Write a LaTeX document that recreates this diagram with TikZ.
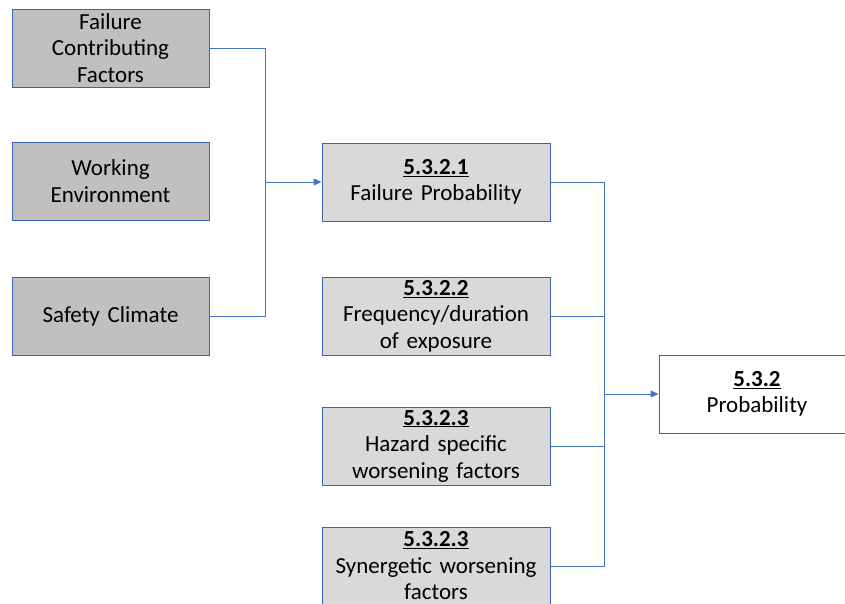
\documentclass[tikz,border=0pt]{standalone}
\usepackage{fontspec}
\setmainfont{Carlito}
\usetikzlibrary{arrows.meta}
\definecolor{edgeblue}{HTML}{3A64B0}
\definecolor{linkblue}{HTML}{4472C4}
\definecolor{factorgray}{HTML}{C0C0C0}
\definecolor{subgray}{HTML}{D9D9D9}
\begin{document}
\begin{tikzpicture}[x=1pt,y=-1pt,
  box/.style={draw=edgeblue,line width=1pt,align=center,inner sep=1pt,
    font=\fontsize{23}{26.5}\selectfont},
  factor/.style={box,fill=factorgray,minimum width=197pt,minimum height=78pt,text width=194pt},
  sub/.style={box,fill=subgray,minimum width=228pt,minimum height=78pt,text width=225pt},
  result/.style={box,fill=white,minimum width=196pt,minimum height=78pt,text width=193pt},
  link/.style={draw=linkblue,line width=1pt},
  arrowlink/.style={link,-{Triangle[length=8pt,width=7pt]}}]
\clip (0,0) rectangle (845,603);
\fill[white] (0,0) rectangle (845,603);

% contributing factors
\node[factor] (fcf) at (110.5,48) {Failure\\Contributing\\Factors};
\node[factor] (we)  at (110.5,181) {Working\\Environment};
\node[factor] (sc)  at (110.5,316) {Safety Climate};

% sub-criteria
\node[sub] (fp)  at (436,182) {\underline{\textbf{5.3.2.1}}\\Failure Probability};
\node[sub] (fde) at (436,316) {\underline{\textbf{5.3.2.2}}\\Frequency/duration\\of exposure};
\node[sub] (hsw) at (436,446) {\underline{\textbf{5.3.2.3}}\\Hazard specific\\worsening factors};
\node[sub] (syn) at (436,566) {\underline{\textbf{5.3.2.3}}\\Synergetic worsening\\factors};

% result
\node[result] (prob) at (757,394) {\underline{\textbf{5.3.2}}\\Probability};

% bus into failure probability
\coordinate (busA) at (265,182);
\draw[link] (fcf.east) -| (busA);
\draw[link] (sc.east) -| (busA);
\draw[arrowlink] (busA) -- (fp.west);

% bus into probability
\coordinate (busB) at (604,394);
\draw[link] (fp.east) -| (busB);
\draw[link] (syn.east) -| (busB);
\draw[link] (fde.east) -- (fde.east -| busB);
\draw[link] (hsw.east) -- (hsw.east -| busB);
\draw[arrowlink] (busB) -- (prob.west);
\end{tikzpicture}
\end{document}
